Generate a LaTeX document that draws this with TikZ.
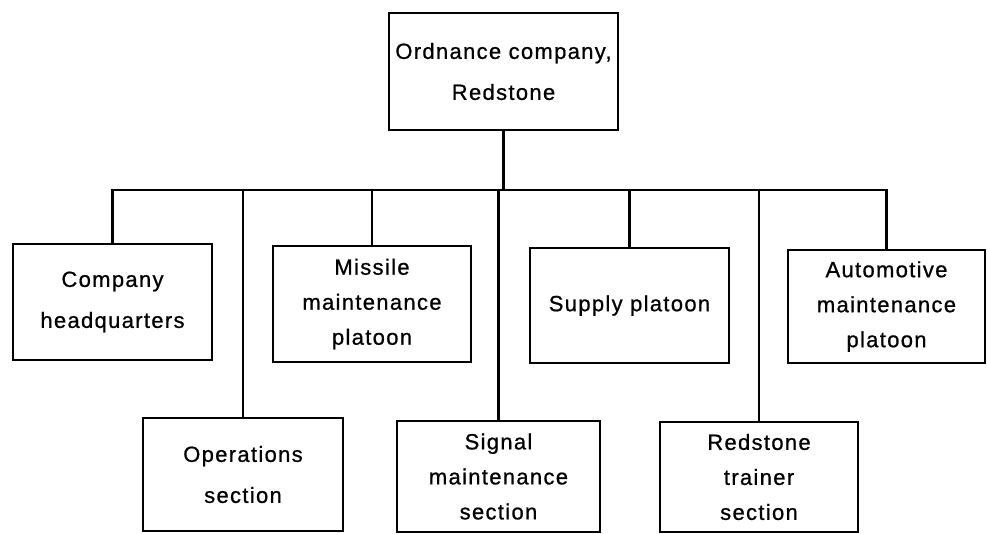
\documentclass[tikz,border=0pt]{standalone}
\usepackage{fontspec}
\setmainfont{Liberation Sans}[LetterSpace=6,FakeBold=0.8]
\begin{document}
\begin{tikzpicture}[x=1pt,y=-1pt,line width=2.8pt,
  box/.style={draw,inner sep=0pt,align=center,line join=miter},
  two/.style={box,font=\fontsize{22}{41}\selectfont},
  three/.style={box,font=\fontsize{22}{35}\selectfont}]
\useasboundingbox (0,0) rectangle (987,533);
\node[two,minimum width=229pt,minimum height=117pt] (top) at (503.5,71.5) {Ordnance company,\\Redstone};
\node[two,minimum width=199pt,minimum height=116pt] (hq) at (112.5,302) {Company\\headquarters};
\node[two,minimum width=200pt,minimum height=113pt] (ops) at (243,474.5) {Operations\\section};
\node[three,minimum width=198pt,minimum height=116pt] (mis) at (372,304) {Missile\\maintenance\\platoon};
\node[three,minimum width=203pt,minimum height=111pt] (sig) at (498.5,476.5) {Signal\\maintenance\\section};
\node[two,minimum width=199pt,minimum height=115pt] (sup) at (629.5,305.5) {Supply platoon};
\node[three,minimum width=198pt,minimum height=110pt] (red) at (759,477) {Redstone\\trainer\\section};
\node[three,minimum width=197pt,minimum height=113pt] (aut) at (886.5,306.5) {Automotive\\maintenance\\platoon};
\coordinate (b) at (503.5,190);
\draw (top.south) -- (b);
\draw (hq.north) |- (b) -| (aut.north);
\draw (ops.north) -- (ops.north |- b);
\draw (mis.north) -- (mis.north |- b);
\draw (sig.north) -- (sig.north |- b);
\draw (sup.north) -- (sup.north |- b);
\draw (red.north) -- (red.north |- b);
\end{tikzpicture}
\end{document}
